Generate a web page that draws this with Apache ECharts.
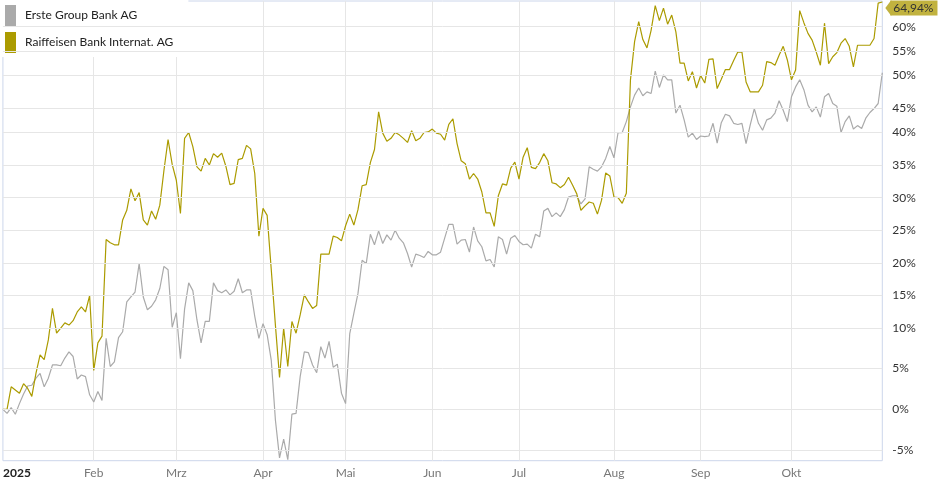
<!DOCTYPE html>
<html>
<head>
<meta charset="utf-8">
<script src="https://cdn.jsdelivr.net/npm/echarts@6/dist/echarts.min.js"></script>
<style>
html,body{margin:0;padding:0;background:#fff;}
#c{width:947px;height:486px;}
</style>
</head>
<body>
<div id="c"></div>
<script>
// ---- data ----
const seriesNames = ['Erste Group Bank AG', 'Raiffeisen Bank Internat. AG'];
const monthNames = ['Jan','Feb','Mrz','Apr','Mai','Jun','Jul','Aug','Sep','Okt','Nov','Dez'];
const yearLabel = '2025';
const tickPct = [-5,0,5,10,15,20,25,30,35,40,45,50,55,60];
const holidays = ['2025-01-01','2025-04-18','2025-04-21','2025-05-01'];
const startDate = '2025-01-02';
const endDate = '2025-10-31';

// performance in % (Erste Group)
const erste = [
0,-0.5,0.2,-0.6,0.7,1.9,2.9,3.0,3.9,4.5,2.8,3.9,5.6,5.6,5.5,6.5,7.3,6.7,3.8,4.3,4.1,1.8,
0.9,2.2,1.1,9.1,5.4,6.0,9.2,10.0,14.1,14.8,15.5,19.6,14.8,13.0,13.5,14.4,16.0,19.2,18.7,10.6,
12.6,6.4,13.1,16.8,15.7,11.6,8.5,11.4,11.4,16.8,15.7,15.4,15.8,15.1,15.6,17.4,15.4,15.8,15.8,12.1,9.1,
11.1,9.6,6.2,-1.3,-5.8,-3.6,-6.0,-0.6,-0.5,4.1,7.3,7.2,5.6,4.6,8.0,6.5,8.7,5.3,5.7,2.0,
0.7,9.7,12.5,15.3,20.1,19.6,24.0,22.4,24.5,22.6,23.9,23.1,24.6,23.4,22.7,21.1,19.1,21.0,20.8,20.5,21.4,
20.9,20.9,21.3,23.4,25.5,25.5,22.5,23.1,23.2,21.3,25.1,23.0,22.1,20.0,20.2,19.1,23.6,23.2,21.0,23.4,23.8,
22.9,22.4,22.5,21.9,24.0,23.6,27.6,28.0,26.7,27.3,26.7,27.8,29.8,30.0,30.0,28.7,29.5,34.7,34.3,34.0,34.7,36.1,38.1,
36.2,40.5,40.5,42.4,45.0,47.1,48.4,47.0,47.7,47.4,51.5,48.5,50.8,49.9,49.9,43.9,45.3,42.7,39.7,40.4,39.3,
39.9,39.8,39.9,42.1,38.7,42.2,43.7,43.4,42.1,41.9,42.1,38.6,41.8,44.7,42.1,40.9,42.7,43.0,43.9,46.1,44.4,42.4,
46.8,48.6,49.9,48.1,45.3,44.1,45.0,43.2,46.8,47.4,45.6,45.1,40.5,42.4,43.4,41.1,41.7,41.2,43.0,44.0,44.7,45.6,51.2
];
// performance in % (Raiffeisen Bank International)
const rbi = [
0,0,2.8,2.4,2.0,3.2,2.6,1.6,4.5,6.9,6.3,8.9,13.2,9.8,10.5,11.2,10.9,11.5,12.7,13.4,12.7,15.0,
4.9,8.5,9.4,23.2,22.7,22.4,22.4,26.2,27.7,31.1,29.2,30.5,26.2,25.4,27.6,26.3,28.5,34.1,39.3,35.1,
32.5,27.2,39.5,40.5,38.1,34.7,34.0,36.1,35.0,36.9,36.3,37.0,34.8,31.8,32.0,35.9,36.1,38.3,37.7,33.6,23.7,
28.0,26.9,18.7,10.9,4.0,10.5,5.4,11.4,9.8,12.3,15.1,14.1,13.2,13.6,21.0,21.0,21.0,23.7,23.5,23.0,
25.3,27.1,25.4,27.8,31.6,31.8,35.4,37.6,44.1,40.4,39.0,39.5,40.5,40.1,39.5,38.8,40.8,39.1,39.5,40.5,40.6,
41.1,40.4,40.2,39.2,41.9,42.9,38.6,35.7,35.2,32.7,33.6,32.7,30.6,27.3,27.3,25.2,30.0,31.9,31.7,34.5,35.5,
32.7,36.3,37.9,34.6,34.4,35.4,36.9,35.7,32.1,31.9,31.3,31.8,33.0,31.7,30.3,27.7,28.4,29.0,28.8,27.1,29.3,33.7,33.2,
29.8,29.7,28.8,30.4,49.9,57.1,61.0,57.5,55.9,59.3,64.2,61.2,63.7,60.5,62.3,59.0,53.0,53.0,49.7,51.4,48.4,
50.7,49.3,53.7,53.8,48.3,50.0,51.8,51.8,53.5,55.1,55.1,49.5,47.7,47.7,47.7,48.9,53.3,53.1,52.6,54.5,56.2,53.6,
49.9,51.7,63.2,60.8,58.7,57.4,55.1,52.6,60.7,52.9,54.2,55.0,56.8,57.7,56.2,52.3,56.4,56.4,56.4,56.4,57.7,64.7,64.94
];

// ---- trading-day categories ----
function fmt(d){return d.toISOString().slice(0,10);}
const dates = [];
for (let t = Date.parse(startDate+'T00:00:00Z'); t <= Date.parse(endDate+'T00:00:00Z'); t += 86400000) {
  const d = new Date(t); const wd = d.getUTCDay();
  if (wd === 0 || wd === 6) continue;
  const s = fmt(d);
  if (holidays.indexOf(s) >= 0) continue;
  dates.push(s);
}
const monthStart = dates.map((s,i) => i === 0 || s.slice(5,7) !== dates[i-1].slice(5,7));

// log-scale (growth factor) transform
const toY = p => Math.log(1 + p / 100);

const GRAY = '#aaaaaa', OLIVE = '#ab9b00';
const FONT = 'Lato, "Open Sans", sans-serif';
const last = rbi.length - 1;

const chart = echarts.init(document.getElementById('c'), null, {renderer:'canvas'});
chart.setOption({
  animation: false,
  backgroundColor: '#ffffff',
  grid: {left: 0.5, right: 64.7, top: 1, bottom: 25.3, show: true, borderColor: '#ccd6eb', borderWidth: 1, backgroundColor: 'transparent'},
  legend: {
    orient: 'vertical', left: 0, top: 0,
    padding: [5, 15, 4, 5], itemGap: 6,
    itemWidth: 11, itemHeight: 21, icon: 'rect',
    backgroundColor: '#ffffff',
    textStyle: {fontFamily: FONT, fontSize: 12, color: '#222222', padding: [0,0,0,4]},
    data: seriesNames
  },
  xAxis: {
    type: 'category', data: dates, boundaryGap: false,
    axisLine: {show: false}, axisTick: {show: false},
    splitLine: {show: true, interval: (i) => monthStart[i] && i !== 0, lineStyle: {color: '#e6e6e6', width: 1}},
    axisLabel: {
      interval: (i) => monthStart[i], margin: 6,
      formatter: (v, i) => i === 0 ? '{y|' + yearLabel + '}' : '{m|' + monthNames[parseInt(v.slice(5,7),10)-1] + '}',
      rich: {
        y: {fontFamily: FONT, fontSize: 12, fontWeight: 'bold', color: '#222222', padding: [0,0,0,28]},
        m: {fontFamily: FONT, fontSize: 12, color: '#777777'}
      }
    }
  },
  yAxis: {
    type: 'value', position: 'right',
    min: Math.log(0.93881), max: Math.log(1.6514),
    axisLabel: {show: false}, splitLine: {show: false}, axisLine: {show: false}, axisTick: {show: false}
  },
  series: [
    {
      name: '__grid', type: 'line', data: dates.map(() => null), z: 1, silent: true,
      markLine: {
        silent: true, symbol: ['none','none'], animation: false,
        lineStyle: {color: '#e6e6e6', type: 'solid', width: 1},
        label: {position: 'end', distance: 10, fontFamily: FONT, fontSize: 12, color: '#333333'},
        data: tickPct.map(t => ({yAxis: toY(t), label: {formatter: t + '%'}}))
      }
    },
    {
      name: seriesNames[0], type: 'line', z: 3, showSymbol: false, symbol: 'none',
      data: erste.map(toY), color: GRAY,
      lineStyle: {color: GRAY, width: 1.2}, itemStyle: {color: GRAY}
    },
    {
      name: seriesNames[1], type: 'line', z: 4, showSymbol: false, symbol: 'none',
      data: rbi.map(toY), color: OLIVE,
      lineStyle: {color: OLIVE, width: 1.2}, itemStyle: {color: OLIVE},
      endLabel: {
        show: true, distance: 8, offset: [0, 6],
        formatter: () => rbi[last].toFixed(2).replace('.', ',') + '%',
        backgroundColor: '#c1b23f', padding: [2, 4, 1, 3],
        fontFamily: FONT, fontSize: 12, color: '#333333'
      },
      markPoint: {
        silent: true, animation: false,
        symbol: 'path://M0,5 L7,0 L7,10 Z', symbolSize: [6, 16], symbolKeepAspect: false,
        symbolOffset: [6, 6],
        itemStyle: {color: '#c1b23f'}, label: {show: false},
        data: [{coord: [last, toY(rbi[last])]}]
      }
    }
  ]
});
</script>
</body>
</html>
